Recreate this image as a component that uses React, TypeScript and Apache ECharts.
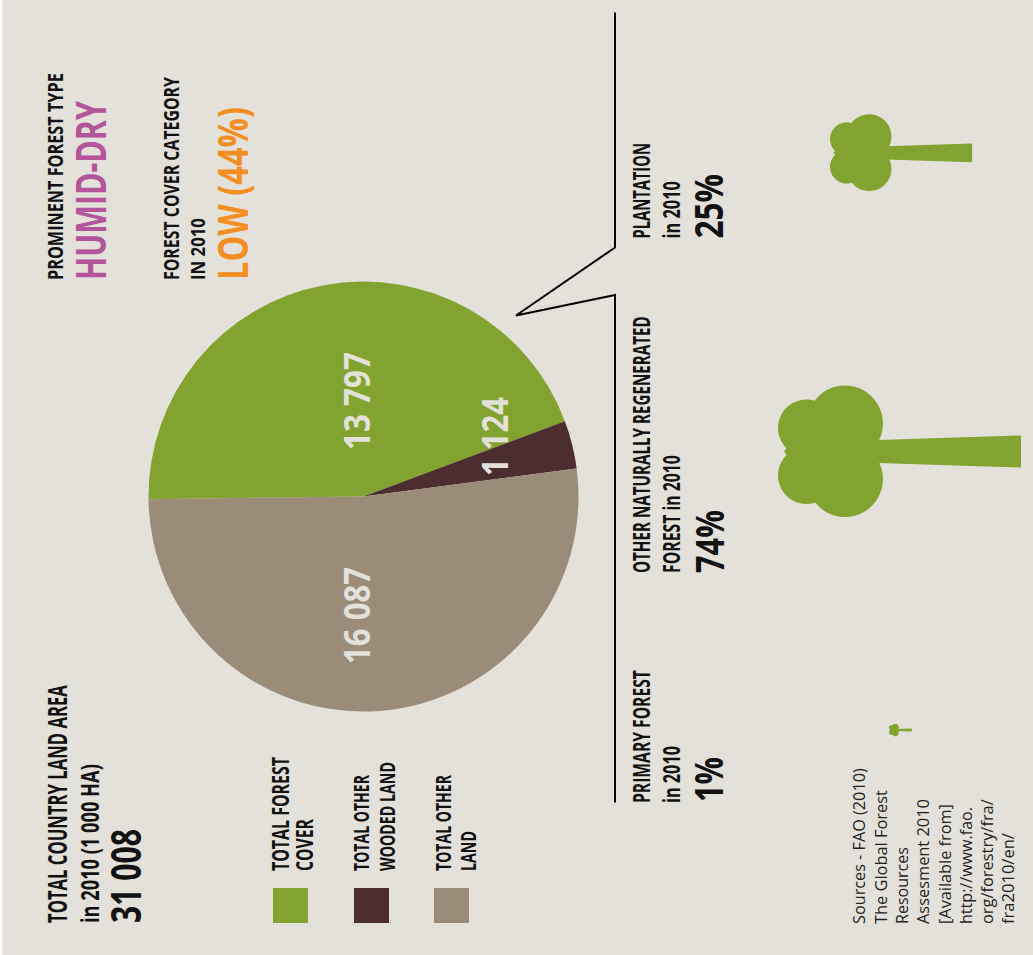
import React, { useEffect, useRef } from "react";
import * as echarts from "echarts";

// Land-use figures, in thousands of hectares
const landCategories = ["Total forest cover", "Total other wooded land", "Total other land"];
const landValues = [13797, 1124, 16087];
const landColors = ["#82A32F", "#4C2D30", "#9A8C78"];
const landTotal = "31 008";

// Share of each forest characteristic, in percent
const forestShares = [1, 74, 25];
const forestCoverShare = 44;

const sourceLines = [
  "Sources - FAO (2010)",
  "The Global Forest",
  "Resources",
  "Assesment 2010",
  "[Available from]",
  "http://www.fao.",
  "org/forestry/fra/",
  "fra2010/en/",
];

const PAGE_W = 1033;
const PAGE_H = 955;
const INK = "#111111";
const PAPER = "#E3E1DA";
const BODY_FONT = "'Open Sans', sans-serif";

const measure = document.createElement("canvas").getContext("2d") as CanvasRenderingContext2D;

// Vertical text reading upwards, squeezed along its run to span bottom..top
function upText(
  text: string,
  x: number,
  bottom: number,
  top: number,
  size: number,
  weight: number,
  color: string = INK,
) {
  measure.font = `${weight} ${size}px ${BODY_FONT}`;
  const natural = measure.measureText(text).width;
  return {
    type: "text",
    x,
    y: bottom,
    z: 10,
    rotation: Math.PI / 2,
    scaleX: (bottom - top) / natural,
    silent: true,
    style: {
      text,
      fontFamily: BODY_FONT,
      fontSize: size,
      fontWeight: weight,
      fill: color,
      align: "left",
      verticalAlign: "middle",
    },
  };
}

// Crown of four lobes with a tapering trunk; origin at the crown's left edge, mid-height
function tree(x: number, y: number, scale: number) {
  const fill = { fill: landColors[0] };
  const lobe = (cx: number, cy: number, r: number) => ({ type: "circle", shape: { cx, cy, r }, style: fill });
  return {
    type: "group",
    x,
    y,
    scaleX: scale,
    scaleY: scale,
    silent: true,
    children: [
      lobe(67, -27.5, 38),
      lobe(67, 28, 38),
      lobe(28.5, -23, 28.5),
      lobe(28.5, 24.5, 28.5),
      { type: "rect", shape: { x: 25, y: -30, width: 45, height: 60 }, style: fill },
      {
        type: "polygon",
        shape: {
          points: [
            [6, 0.5],
            [18, -16],
            [18, 17],
          ],
        },
        style: fill,
      },
      {
        type: "polygon",
        shape: {
          points: [
            [70, -10],
            [243, -15.5],
            [243, 16.5],
            [70, 11],
          ],
        },
        style: fill,
      },
    ],
  };
}

const swatch = (x: number, color: string) => ({
  type: "rect",
  shape: { x, y: 888, width: 35, height: 35 },
  style: { fill: color },
  silent: true,
});

const pct = (v: number) => `${v}%`;
const spaced = (v: number) => String(v).replace(/\B(?=(\d{3})+$)/g, " ");

export default function App() {
  const ref = useRef<HTMLDivElement>(null);

  useEffect(() => {
    document.body.style.margin = "0";
    const chart = echarts.init(ref.current as HTMLDivElement, undefined, { renderer: "svg" });
    chart.setOption({
      animation: false,
      series: [
        {
          type: "pie",
          silent: true,
          center: [363.5, 496.5],
          radius: [0, 215],
          startAngle: 180.7,
          clockwise: true,
          z: 2,
          emphasis: { disabled: true },
          labelLine: { show: false },
          label: { show: false },
          data: landCategories.map((name, i) => ({
            name,
            value: landValues[i],
            itemStyle: { color: landColors[i] },
          })),
        },
      ],
      graphic: [
        { type: "rect", z: -10, silent: true, shape: { x: 2, y: 0, width: PAGE_W - 2, height: PAGE_H }, style: { fill: PAPER } },

        // Slice values
        upText(spaced(landValues[0]), 356.7, 450, 352, 35, 700, PAPER),
        upText(spaced(landValues[1]), 495.2, 476, 397, 35, 700, PAPER),
        upText(spaced(landValues[2]), 356.7, 664, 567, 35, 700, PAPER),

        // Country totals
        upText("TOTAL COUNTRY LAND AREA", 56.5, 923, 685, 26, 700),
        upText("in 2010 (1 000 HA)", 89, 923, 764, 25, 700),
        upText(landTotal, 126, 923, 829, 41, 700),

        // Legend
        upText("TOTAL FOREST", 280, 871, 757, 23, 700),
        upText("COVER", 304, 871, 819, 23, 700),
        upText("TOTAL OTHER", 360.5, 871, 775, 21, 700),
        upText("WOODED LAND", 386.5, 871, 762, 21, 700),
        upText("TOTAL OTHER", 442.5, 871, 775, 21, 700),
        upText("LAND", 468, 871, 831, 21, 700),
        swatch(273, landColors[0]),
        swatch(354, landColors[1]),
        swatch(434, landColors[2]),

        // Forest type and cover category
        upText("PROMINENT FOREST TYPE", 54.5, 280, 73, 21, 700),
        upText("HUMID-DRY", 90, 280, 101, 41, 700, "#B2559B"),
        upText("FOREST COVER CATEGORY", 171, 280, 77, 21, 700),
        upText("IN 2010", 197, 280, 218, 20, 700),
        upText(`LOW (${forestCoverShare}%)`, 232, 280, 107, 41, 700, "#F28E22"),

        // Forest characteristics
        upText("PRIMARY FOREST", 641.5, 803, 670, 23, 700),
        upText("in 2010", 671, 803, 746, 23, 700),
        upText(pct(forestShares[0]), 708, 802, 757, 39, 700),
        upText("OTHER NATURALLY REGENERATED", 641.5, 573, 316, 23, 700),
        upText("FOREST in 2010", 671, 573, 455, 23, 700),
        upText(pct(forestShares[1]), 708, 573, 510, 39, 700),
        upText("PLANTATION", 641.5, 238.5, 143, 23, 700),
        upText("in 2010", 671, 238.5, 181, 23, 700),
        upText(pct(forestShares[2]), 708, 238.5, 174, 39, 700),

        // Leader bracket from the forest slice
        {
          type: "polyline",
          silent: true,
          shape: {
            points: [
              [615, 12.5],
              [615, 247.5],
              [516, 315.5],
              [615, 295],
              [615, 802.5],
            ],
          },
          style: { stroke: "#000000", fill: "none", lineWidth: 2, lineJoin: "miter" },
        },

        // Trees sized by area to the forest shares
        tree(889, 730, 0.094),
        tree(778, 451, 1),
        tree(830, 152.5, 0.585),

        ...sourceLines.map((line, i) => {
          const tops = [768, 790, 847, 799, 804, 807, 799, 833];
          return upText(line, 859.5 + i * 21.3, 924, tops[i], 16, 400, "#222222");
        }),
      ],
    });
    return () => chart.dispose();
  }, []);

  return (
    <div
      ref={ref}
      style={{ position: "absolute", left: 0, top: 0, width: PAGE_W, height: PAGE_H }}
    />
  );
}
